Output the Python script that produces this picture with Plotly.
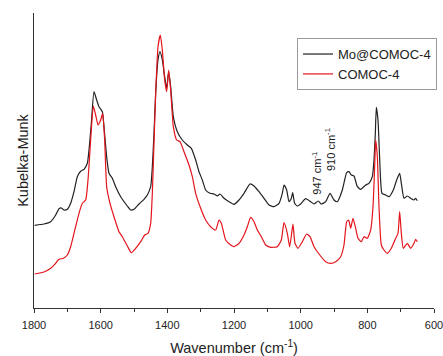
import plotly.graph_objects as go

# Mo@COMOC-4 (black)
wn_mo = [1798, 1770, 1750, 1735, 1725, 1718, 1710, 1700, 1690, 1680, 1670, 1660, 1650, 1640, 1635, 1628,
         1620, 1612, 1605, 1595, 1590, 1582, 1575, 1565, 1555, 1540, 1520, 1510, 1500, 1485, 1470, 1460,
         1450, 1445, 1440, 1435, 1428, 1422, 1415, 1408, 1402, 1396, 1390, 1382, 1370, 1355, 1340, 1328,
         1315, 1305, 1295, 1285, 1272, 1260, 1250, 1242, 1230, 1215, 1200, 1185, 1170, 1152, 1140, 1125,
         1110, 1095, 1080, 1065, 1055, 1050, 1042, 1035, 1028, 1024, 1018, 1010, 1000, 985, 970, 960,
         947, 938, 925, 912, 900, 890, 875, 862, 855, 848, 840, 830, 820, 805, 795, 785,
         780, 776, 773, 768, 762, 756, 745, 735, 722, 712, 703, 698, 690, 680, 670, 660, 655, 650]
km_mo = [82.7, 84, 86.3, 93, 99.3, 100, 98, 98.7, 104.7, 116.3, 131.3, 136.7, 138.7, 144.7, 158, 184.7,
         216.3, 208, 201.3, 196.3, 181.3, 151.3, 134.7, 129.7, 121.3, 111.3, 102, 98, 98.7, 104, 108.7, 113,
         121.3, 141.3, 174.7, 214.7, 248, 256.3, 248, 231.3, 219.7, 236.3, 221.3, 191.3, 176.3, 168, 163, 159.7,
         148, 136.3, 128, 118, 114.7, 114, 112, 114, 109.7, 106.3, 103.7, 108, 114.7, 124, 122, 116.3,
         109.7, 103, 101.3, 104.7, 114.7, 123, 118, 106.3, 109.7, 115.3, 104.7, 102, 104, 109.3, 106.3, 104,
         107, 104, 106.3, 114.7, 108, 106.3, 118, 135.3, 136.3, 133, 132, 121.3, 118.7, 123, 124.7, 131.3,
         148, 174.7, 200.7, 188, 141.3, 114.7, 113, 111.3, 118, 128, 134.7, 124.7, 109.7, 112, 109.7, 108, 109.7, 107.3]

# COMOC-4 (red)
wn_co = [1798, 1770, 1750, 1735, 1725, 1712, 1700, 1690, 1680, 1665, 1655, 1645, 1638, 1630, 1622, 1615,
         1608, 1600, 1594, 1588, 1582, 1572, 1560, 1545, 1535, 1520, 1508, 1495, 1480, 1468, 1458, 1450,
         1445, 1440, 1435, 1428, 1421, 1415, 1408, 1402, 1396, 1390, 1382, 1372, 1362, 1350, 1335, 1325,
         1315, 1300, 1285, 1270, 1255, 1245, 1238, 1225, 1210, 1200, 1185, 1170, 1160, 1150, 1140, 1130,
         1118, 1105, 1090, 1070, 1058, 1050, 1040, 1033, 1027, 1023, 1017, 1008, 995, 982, 972, 960,
         945, 925, 910, 895, 880, 870, 862, 856, 850, 843, 836, 828, 818, 810, 800, 790,
         783, 778, 775, 770, 765, 758, 750, 740, 728, 715, 708, 703, 698, 692, 680, 670, 660, 655, 650]
km_co = [34, 36, 39.7, 44.7, 48.7, 49.7, 53, 61.3, 74.7, 94.7, 104.7, 108, 128, 168, 202, 193,
         183, 188, 194.7, 168, 121.3, 104.7, 91.3, 76.3, 71.3, 62, 55.3, 59.7, 66.3, 73, 74.7, 84.7,
         114.7, 164.7, 214.7, 261.3, 273, 258, 228, 216.3, 238, 218, 181.3, 168, 166.3, 156.3, 143, 131.3,
         114.7, 99.7, 88, 81.3, 78, 88, 84.7, 68, 63, 61.3, 64.7, 73, 81.3, 90.7, 86.3, 78,
         71.3, 63, 60.7, 61.3, 68, 85.3, 74.7, 61.3, 74.7, 84, 64.7, 59.7, 66.3, 74, 71.3, 61.3,
         54, 46.3, 44.7, 46.3, 51.3, 63, 86.3, 88, 79.7, 89.7, 81.3, 69.7, 66.3, 71.3, 69.7, 78,
         101.3, 141.3, 168, 151.3, 101.3, 63, 58, 54.7, 59.7, 69.7, 74.7, 96.3, 74.7, 59.7, 64.7, 59.7, 64.7, 68.7, 66.3]

x_ticks = [1800, 1600, 1400, 1200, 1000, 800, 600]
peak_labels = ["947 cm<sup>-1</sup>", "910 cm<sup>-1</sup>"]
peak_wn = [952, 912]
peak_y = [135, 158]

font = "Arial, Liberation Sans, sans-serif"

fig = go.Figure()
fig.add_trace(go.Scatter(x=wn_mo, y=km_mo, mode="lines", name="Mo@COMOC-4",
                         line=dict(color="#222222", width=1.2, shape="spline", smoothing=0.5)))
fig.add_trace(go.Scatter(x=wn_co, y=km_co, mode="lines", name="COMOC-4",
                         line=dict(color="#e3141c", width=1.2, shape="spline", smoothing=0.5)))

for t, xv, yv in zip(peak_labels, peak_wn, peak_y):
    fig.add_annotation(x=xv, y=yv, text=t, textangle=-90, showarrow=False,
                       font=dict(family=font, size=11, color="#222"))

fig.update_layout(
    width=443, height=356,
    margin=dict(l=34, r=9, t=13, b=48, autoexpand=False),
    plot_bgcolor="white", paper_bgcolor="white",
    font=dict(family=font, color="#222"),
    showlegend=True,
    legend=dict(x=0.6575, y=0.915, xanchor="left", yanchor="top",
                bordercolor="#999", borderwidth=1, bgcolor="white",
                font=dict(size=13), tracegroupgap=0, itemwidth=30),
    xaxis=dict(range=[1800, 600], tickvals=x_ticks, ticks="outside", ticklen=4,
               showline=True, linecolor="#333", linewidth=1, showgrid=False, zeroline=False,
               tickfont=dict(size=11), tickcolor="#333", automargin=False,
               ticklabeloverflow="allow", ticklabelstandoff=3,
               minor=dict(dtick=100, tick0=600, ticks="outside", ticklen=3, tickcolor="#333"),
               title=dict(text="Wavenumber (cm<sup>-1</sup>)", font=dict(size=14.5), standoff=15)),
    yaxis=dict(range=[0, 295], showticklabels=False, ticks="", showline=True, linecolor="#333",
               linewidth=1, showgrid=False, zeroline=False, automargin=False,
               title=dict(text="Kubelka-Munk", font=dict(size=14.5), standoff=0)),
)

# remove the browser's default 8px body margin so the figure fills the window exactly
fig.write_html("out.html", config={"displayModeBar": False},
               post_script="document.body.style.margin='0';")
